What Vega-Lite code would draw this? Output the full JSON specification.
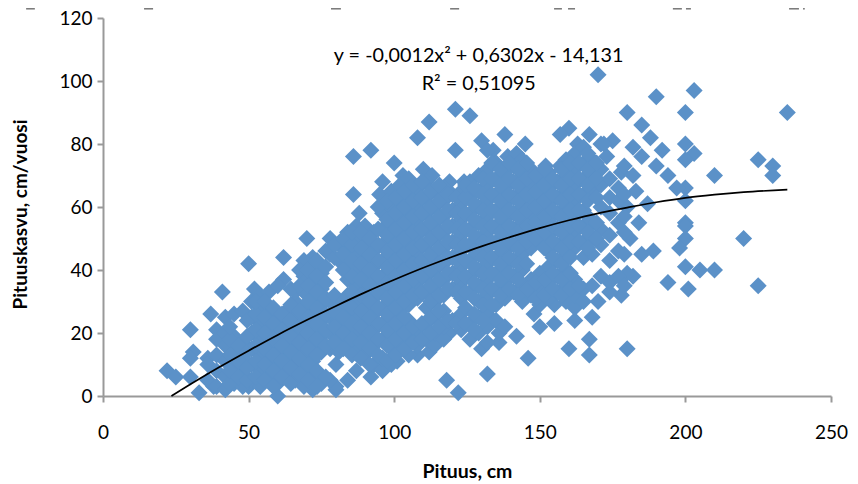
{"$schema":"https://vega.github.io/schema/vega-lite/v6.json","width":728,"height":378,"autosize":{"type":"none"},"padding":{"left":103,"top":18,"right":27,"bottom":88},"background":"white","config":{"view":{"stroke":null},"font":"Lato"},
"datasets":{"pts":[
{"x":22,"y":8},{"x":25,"y":6},{"x":30,"y":6},{"x":33,"y":1},{"x":30,"y":21},{"x":31,"y":14},{"x":30,"y":12},{"x":36,"y":12},{"x":36,"y":10},{"x":41,"y":33},{"x":50,"y":42},{"x":62,"y":44},{"x":70,"y":50},{"x":88,"y":58},{"x":52,"y":34},{"x":62,"y":37},{"x":37,"y":26},{"x":39,"y":21},{"x":60,"y":0},{"x":80,"y":2},{"x":80,"y":10},{"x":72,"y":2},{"x":50,"y":3},{"x":38,"y":3},{"x":78,"y":50},{"x":72,"y":44},
{"x":170,"y":102},{"x":190,"y":95},{"x":203,"y":97},{"x":180,"y":90},{"x":200,"y":90},{"x":235,"y":90},{"x":185,"y":86},{"x":188,"y":82},{"x":200,"y":80},{"x":203,"y":77},{"x":192,"y":78},{"x":200,"y":75},{"x":225,"y":75},{"x":230,"y":73},{"x":230,"y":70},{"x":210,"y":70},{"x":200,"y":66},{"x":200,"y":62},{"x":200,"y":55},{"x":200,"y":54},{"x":200,"y":50},{"x":198,"y":47},{"x":220,"y":50},{"x":189,"y":46},{"x":185,"y":45},{"x":200,"y":41},{"x":205,"y":40},{"x":210,"y":40},{"x":194,"y":36},{"x":201,"y":34},{"x":225,"y":35},{"x":182,"y":38},{"x":180,"y":39},{"x":178,"y":32},{"x":170,"y":30},{"x":168,"y":25},{"x":167,"y":18},{"x":167,"y":13},{"x":180,"y":15},
{"x":167,"y":83},{"x":171,"y":80},{"x":175,"y":81},{"x":173,"y":76},{"x":182,"y":79},{"x":185,"y":76},{"x":190,"y":73},{"x":194,"y":70},{"x":197,"y":66},{"x":187,"y":61},{"x":178,"y":71},{"x":182,"y":70},{"x":183,"y":65},{"x":180,"y":60},{"x":184,"y":55},{"x":181,"y":50},{"x":177,"y":46},{"x":174,"y":43},
{"x":133,"y":25},{"x":142,"y":19},{"x":146,"y":12},{"x":132,"y":7},{"x":118,"y":5},{"x":122,"y":1},{"x":160,"y":15},{"x":162,"y":24},{"x":155,"y":23},{"x":150,"y":22},{"x":148,"y":26},{"x":155,"y":29},{"x":130,"y":15},{"x":136,"y":17},{"x":136,"y":20},{"x":119,"y":20},{"x":112,"y":14},{"x":108,"y":13},{"x":101,"y":11},{"x":92,"y":6},{"x":84,"y":5},{"x":80,"y":3},
{"x":121,"y":91},{"x":126,"y":89},{"x":112,"y":87},{"x":108,"y":82},{"x":138,"y":83},{"x":130,"y":81},{"x":121,"y":78},{"x":92,"y":78},{"x":86,"y":76},{"x":100,"y":74},{"x":134,"y":78},{"x":145,"y":80},{"x":160,"y":85},{"x":157,"y":83},{"x":163,"y":80},{"x":172,"y":80},{"x":86,"y":64},{"x":95,"y":64},{"x":96,"y":68},{"x":103,"y":70},{"x":110,"y":72},{"x":113,"y":70},{"x":119,"y":68},{"x":124,"y":68},{"x":152,"y":73},{"x":157,"y":73},{"x":139,"y":76},{"x":132,"y":78},{"x":142,"y":77},
{"x":36,"y":5},{"x":39,"y":3},{"x":39,"y":8},{"x":39,"y":13},{"x":39,"y":18},{"x":42,"y":2},{"x":42,"y":6},{"x":42,"y":11},{"x":42,"y":16},{"x":42,"y":20},{"x":42,"y":25},{"x":45,"y":4},{"x":45,"y":9},{"x":45,"y":14},{"x":45,"y":19},{"x":45,"y":26},{"x":48,"y":3},{"x":48,"y":7},{"x":48,"y":12},{"x":48,"y":17},{"x":48,"y":27},{"x":51,"y":5},{"x":51,"y":10},{"x":51,"y":15},{"x":51,"y":20},{"x":51,"y":25},{"x":51,"y":30},{"x":54,"y":3},{"x":54,"y":8},{"x":54,"y":13},{"x":54,"y":18},{"x":54,"y":23},{"x":54,"y":28},{"x":54,"y":32},{"x":57,"y":6},{"x":57,"y":11},{"x":57,"y":16},{"x":57,"y":21},{"x":57,"y":26},{"x":57,"y":33},{"x":60,"y":4},{"x":60,"y":9},{"x":60,"y":14},{"x":60,"y":19},{"x":60,"y":24},{"x":60,"y":35},{"x":63,"y":7},{"x":63,"y":12},{"x":63,"y":17},{"x":63,"y":22},{"x":63,"y":27},{"x":66,"y":5},{"x":66,"y":10},{"x":66,"y":15},{"x":66,"y":20},{"x":66,"y":25},{"x":66,"y":30},{"x":66,"y":33},{"x":69,"y":3},{"x":69,"y":8},{"x":69,"y":13},{"x":69,"y":18},{"x":69,"y":23},{"x":69,"y":28},{"x":69,"y":33},{"x":69,"y":38},{"x":69,"y":43},{"x":72,"y":6},{"x":72,"y":11},{"x":72,"y":16},{"x":72,"y":21},{"x":72,"y":26},{"x":72,"y":31},{"x":72,"y":36},{"x":72,"y":41},{"x":75,"y":4},{"x":75,"y":14},{"x":75,"y":19},{"x":75,"y":24},{"x":75,"y":29},{"x":75,"y":34},{"x":75,"y":39},{"x":78,"y":5},{"x":78,"y":15},{"x":78,"y":20},{"x":78,"y":25},{"x":78,"y":30},{"x":78,"y":45},{"x":81,"y":14},{"x":81,"y":19},{"x":81,"y":24},{"x":81,"y":29},{"x":81,"y":43},{"x":81,"y":48},{"x":84,"y":17},{"x":84,"y":22},{"x":84,"y":27},{"x":84,"y":32},{"x":84,"y":37},{"x":84,"y":42},{"x":84,"y":47},{"x":84,"y":52},{"x":87,"y":8},{"x":87,"y":15},{"x":87,"y":20},{"x":87,"y":25},{"x":87,"y":30},{"x":87,"y":35},{"x":87,"y":40},{"x":87,"y":45},{"x":87,"y":50},{"x":87,"y":54},{"x":90,"y":13},{"x":90,"y":18},{"x":90,"y":23},{"x":90,"y":28},{"x":90,"y":33},{"x":90,"y":38},{"x":90,"y":43},{"x":90,"y":48},{"x":90,"y":54},{"x":93,"y":10},{"x":93,"y":16},{"x":93,"y":21},{"x":93,"y":26},{"x":93,"y":31},{"x":93,"y":36},{"x":93,"y":41},{"x":93,"y":46},{"x":93,"y":52},{"x":96,"y":8},{"x":96,"y":12},{"x":96,"y":18},{"x":96,"y":23},{"x":96,"y":28},{"x":96,"y":33},{"x":96,"y":38},{"x":96,"y":43},{"x":96,"y":48},{"x":96,"y":53},{"x":96,"y":58},{"x":99,"y":10},{"x":99,"y":15},{"x":99,"y":20},{"x":99,"y":25},{"x":99,"y":30},{"x":99,"y":35},{"x":99,"y":40},{"x":99,"y":45},{"x":99,"y":50},{"x":99,"y":55},{"x":99,"y":60},{"x":99,"y":65},{"x":102,"y":17},{"x":102,"y":22},{"x":102,"y":27},{"x":102,"y":32},{"x":102,"y":37},{"x":102,"y":42},{"x":102,"y":47},{"x":102,"y":52},{"x":102,"y":57},{"x":102,"y":62},{"x":102,"y":67},{"x":105,"y":13},{"x":105,"y":19},{"x":105,"y":24},{"x":105,"y":29},{"x":105,"y":34},{"x":105,"y":39},{"x":105,"y":44},{"x":105,"y":49},{"x":105,"y":54},{"x":105,"y":59},{"x":105,"y":64},{"x":105,"y":69},{"x":108,"y":16},{"x":108,"y":21},{"x":108,"y":31},{"x":108,"y":36},{"x":108,"y":41},{"x":108,"y":46},{"x":108,"y":51},{"x":108,"y":56},{"x":108,"y":61},{"x":108,"y":66},{"x":111,"y":18},{"x":111,"y":23},{"x":111,"y":28},{"x":111,"y":33},{"x":111,"y":38},{"x":111,"y":43},{"x":111,"y":48},{"x":111,"y":53},{"x":111,"y":58},{"x":111,"y":63},{"x":111,"y":68},{"x":114,"y":16},{"x":114,"y":20},{"x":114,"y":25},{"x":114,"y":30},{"x":114,"y":35},{"x":114,"y":40},{"x":114,"y":45},{"x":114,"y":50},{"x":114,"y":55},{"x":114,"y":60},{"x":114,"y":65},{"x":117,"y":18},{"x":117,"y":22},{"x":117,"y":27},{"x":117,"y":32},{"x":117,"y":37},{"x":117,"y":42},{"x":117,"y":47},{"x":117,"y":52},{"x":117,"y":57},{"x":117,"y":62},{"x":117,"y":66},{"x":120,"y":24},{"x":120,"y":34},{"x":120,"y":39},{"x":120,"y":44},{"x":120,"y":49},{"x":120,"y":54},{"x":120,"y":59},{"x":120,"y":64},{"x":123,"y":21},{"x":123,"y":26},{"x":123,"y":31},{"x":123,"y":36},{"x":123,"y":41},{"x":123,"y":46},{"x":123,"y":51},{"x":123,"y":56},{"x":123,"y":61},{"x":123,"y":65},{"x":126,"y":18},{"x":126,"y":23},{"x":126,"y":33},{"x":126,"y":38},{"x":126,"y":43},{"x":126,"y":48},{"x":126,"y":53},{"x":126,"y":58},{"x":126,"y":63},{"x":126,"y":68},{"x":129,"y":20},{"x":129,"y":25},{"x":129,"y":30},{"x":129,"y":35},{"x":129,"y":40},{"x":129,"y":45},{"x":129,"y":50},{"x":129,"y":55},{"x":129,"y":60},{"x":129,"y":65},{"x":129,"y":70},{"x":132,"y":17},{"x":132,"y":22},{"x":132,"y":27},{"x":132,"y":32},{"x":132,"y":37},{"x":132,"y":42},{"x":132,"y":47},{"x":132,"y":52},{"x":132,"y":57},{"x":132,"y":62},{"x":132,"y":67},{"x":132,"y":72},{"x":135,"y":24},{"x":135,"y":29},{"x":135,"y":34},{"x":135,"y":39},{"x":135,"y":44},{"x":135,"y":49},{"x":135,"y":54},{"x":135,"y":59},{"x":135,"y":64},{"x":135,"y":69},{"x":135,"y":74},{"x":138,"y":22},{"x":138,"y":31},{"x":138,"y":36},{"x":138,"y":41},{"x":138,"y":46},{"x":138,"y":51},{"x":138,"y":56},{"x":138,"y":61},{"x":138,"y":66},{"x":138,"y":71},{"x":141,"y":33},{"x":141,"y":38},{"x":141,"y":43},{"x":141,"y":48},{"x":141,"y":53},{"x":141,"y":58},{"x":141,"y":63},{"x":141,"y":68},{"x":141,"y":73},{"x":144,"y":30},{"x":144,"y":35},{"x":144,"y":40},{"x":144,"y":45},{"x":144,"y":50},{"x":144,"y":55},{"x":144,"y":60},{"x":144,"y":65},{"x":144,"y":70},{"x":144,"y":75},{"x":147,"y":32},{"x":147,"y":37},{"x":147,"y":47},{"x":147,"y":52},{"x":147,"y":57},{"x":147,"y":62},{"x":147,"y":67},{"x":147,"y":72},{"x":150,"y":29},{"x":150,"y":34},{"x":150,"y":39},{"x":150,"y":49},{"x":150,"y":54},{"x":150,"y":59},{"x":150,"y":64},{"x":150,"y":69},{"x":153,"y":31},{"x":153,"y":36},{"x":153,"y":41},{"x":153,"y":46},{"x":153,"y":51},{"x":153,"y":56},{"x":153,"y":61},{"x":153,"y":66},{"x":153,"y":71},{"x":156,"y":33},{"x":156,"y":38},{"x":156,"y":43},{"x":156,"y":48},{"x":156,"y":53},{"x":156,"y":58},{"x":156,"y":63},{"x":156,"y":68},{"x":159,"y":30},{"x":159,"y":35},{"x":159,"y":40},{"x":159,"y":45},{"x":159,"y":50},{"x":159,"y":55},{"x":159,"y":60},{"x":159,"y":65},{"x":159,"y":70},{"x":159,"y":75},{"x":162,"y":28},{"x":162,"y":32},{"x":162,"y":37},{"x":162,"y":47},{"x":162,"y":52},{"x":162,"y":57},{"x":162,"y":62},{"x":162,"y":67},{"x":162,"y":72},{"x":162,"y":77},{"x":165,"y":30},{"x":165,"y":34},{"x":165,"y":44},{"x":165,"y":49},{"x":165,"y":54},{"x":165,"y":59},{"x":165,"y":64},{"x":165,"y":69},{"x":165,"y":74},{"x":165,"y":79},{"x":168,"y":35},{"x":168,"y":45},{"x":168,"y":50},{"x":168,"y":55},{"x":168,"y":65},{"x":168,"y":70},{"x":168,"y":75},{"x":171,"y":38},{"x":171,"y":48},{"x":171,"y":53},{"x":171,"y":60},{"x":171,"y":67},{"x":171,"y":72},{"x":174,"y":33},{"x":174,"y":36},{"x":174,"y":51},{"x":174,"y":58},{"x":174,"y":63},{"x":174,"y":69},{"x":177,"y":38},{"x":177,"y":55},{"x":177,"y":62},{"x":177,"y":66},{"x":179,"y":35},{"x":179,"y":45},{"x":179,"y":52},{"x":179,"y":57},{"x":179,"y":64},{"x":179,"y":73},
{"x":43.5,"y":4},{"x":43.5,"y":8},{"x":43.5,"y":13},{"x":43.5,"y":18},{"x":43.5,"y":22},{"x":46.5,"y":6},{"x":46.5,"y":11},{"x":46.5,"y":16},{"x":49.5,"y":5},{"x":49.5,"y":9},{"x":49.5,"y":14},{"x":49.5,"y":19},{"x":49.5,"y":24},{"x":52.5,"y":6},{"x":52.5,"y":11},{"x":52.5,"y":16},{"x":52.5,"y":21},{"x":52.5,"y":26},{"x":52.5,"y":30},{"x":55.5,"y":5},{"x":55.5,"y":10},{"x":55.5,"y":15},{"x":55.5,"y":20},{"x":55.5,"y":25},{"x":55.5,"y":30},{"x":58.5,"y":3},{"x":58.5,"y":8},{"x":58.5,"y":13},{"x":58.5,"y":18},{"x":58.5,"y":23},{"x":58.5,"y":28},{"x":61.5,"y":6},{"x":61.5,"y":11},{"x":61.5,"y":16},{"x":61.5,"y":21},{"x":61.5,"y":26},{"x":64.5,"y":4},{"x":64.5,"y":9},{"x":64.5,"y":14},{"x":64.5,"y":19},{"x":64.5,"y":24},{"x":64.5,"y":29},{"x":64.5,"y":34},{"x":67.5,"y":7},{"x":67.5,"y":12},{"x":67.5,"y":17},{"x":67.5,"y":22},{"x":67.5,"y":27},{"x":67.5,"y":35},{"x":67.5,"y":40},{"x":70.5,"y":5},{"x":70.5,"y":10},{"x":70.5,"y":15},{"x":70.5,"y":20},{"x":70.5,"y":25},{"x":70.5,"y":30},{"x":70.5,"y":35},{"x":70.5,"y":40},{"x":73.5,"y":3},{"x":73.5,"y":8},{"x":73.5,"y":13},{"x":73.5,"y":18},{"x":73.5,"y":23},{"x":73.5,"y":28},{"x":73.5,"y":33},{"x":73.5,"y":38},{"x":73.5,"y":43},{"x":76.5,"y":6},{"x":76.5,"y":16},{"x":76.5,"y":21},{"x":76.5,"y":26},{"x":76.5,"y":31},{"x":76.5,"y":36},{"x":76.5,"y":41},{"x":76.5,"y":46},{"x":79.5,"y":17},{"x":79.5,"y":22},{"x":79.5,"y":27},{"x":79.5,"y":32},{"x":79.5,"y":44},{"x":79.5,"y":48},{"x":82.5,"y":15},{"x":82.5,"y":20},{"x":82.5,"y":25},{"x":82.5,"y":30},{"x":82.5,"y":40},{"x":82.5,"y":45},{"x":82.5,"y":50},{"x":85.5,"y":13},{"x":85.5,"y":18},{"x":85.5,"y":23},{"x":85.5,"y":28},{"x":85.5,"y":33},{"x":85.5,"y":38},{"x":85.5,"y":43},{"x":85.5,"y":48},{"x":85.5,"y":52},{"x":88.5,"y":12},{"x":88.5,"y":17},{"x":88.5,"y":22},{"x":88.5,"y":27},{"x":88.5,"y":32},{"x":88.5,"y":37},{"x":88.5,"y":42},{"x":88.5,"y":47},{"x":88.5,"y":52},{"x":91.5,"y":10},{"x":91.5,"y":15},{"x":91.5,"y":20},{"x":91.5,"y":25},{"x":91.5,"y":30},{"x":91.5,"y":35},{"x":91.5,"y":40},{"x":91.5,"y":45},{"x":91.5,"y":50},{"x":94.5,"y":13},{"x":94.5,"y":18},{"x":94.5,"y":23},{"x":94.5,"y":28},{"x":94.5,"y":33},{"x":94.5,"y":38},{"x":94.5,"y":43},{"x":94.5,"y":48},{"x":94.5,"y":53},{"x":94.5,"y":60},{"x":97.5,"y":11},{"x":97.5,"y":16},{"x":97.5,"y":21},{"x":97.5,"y":26},{"x":97.5,"y":31},{"x":97.5,"y":36},{"x":97.5,"y":41},{"x":97.5,"y":46},{"x":97.5,"y":51},{"x":97.5,"y":56},{"x":97.5,"y":62},{"x":100.5,"y":13},{"x":100.5,"y":18},{"x":100.5,"y":23},{"x":100.5,"y":28},{"x":100.5,"y":33},{"x":100.5,"y":38},{"x":100.5,"y":43},{"x":100.5,"y":48},{"x":100.5,"y":53},{"x":100.5,"y":58},{"x":100.5,"y":63},{"x":103.5,"y":15},{"x":103.5,"y":20},{"x":103.5,"y":25},{"x":103.5,"y":30},{"x":103.5,"y":35},{"x":103.5,"y":40},{"x":103.5,"y":45},{"x":103.5,"y":50},{"x":103.5,"y":55},{"x":103.5,"y":60},{"x":103.5,"y":65},{"x":106.5,"y":17},{"x":106.5,"y":22},{"x":106.5,"y":32},{"x":106.5,"y":37},{"x":106.5,"y":42},{"x":106.5,"y":47},{"x":106.5,"y":52},{"x":106.5,"y":57},{"x":106.5,"y":62},{"x":106.5,"y":67},{"x":109.5,"y":18},{"x":109.5,"y":23},{"x":109.5,"y":33},{"x":109.5,"y":38},{"x":109.5,"y":43},{"x":109.5,"y":48},{"x":109.5,"y":53},{"x":109.5,"y":58},{"x":109.5,"y":63},{"x":109.5,"y":68},{"x":112.5,"y":20},{"x":112.5,"y":25},{"x":112.5,"y":30},{"x":112.5,"y":35},{"x":112.5,"y":40},{"x":112.5,"y":45},{"x":112.5,"y":50},{"x":112.5,"y":55},{"x":112.5,"y":60},{"x":112.5,"y":65},{"x":115.5,"y":22},{"x":115.5,"y":27},{"x":115.5,"y":32},{"x":115.5,"y":37},{"x":115.5,"y":42},{"x":115.5,"y":47},{"x":115.5,"y":52},{"x":115.5,"y":57},{"x":115.5,"y":62},{"x":115.5,"y":67},{"x":118.5,"y":24},{"x":118.5,"y":34},{"x":118.5,"y":39},{"x":118.5,"y":44},{"x":118.5,"y":49},{"x":118.5,"y":54},{"x":118.5,"y":59},{"x":118.5,"y":64},{"x":121.5,"y":23},{"x":121.5,"y":33},{"x":121.5,"y":38},{"x":121.5,"y":43},{"x":121.5,"y":48},{"x":121.5,"y":53},{"x":121.5,"y":58},{"x":121.5,"y":63},{"x":124.5,"y":23},{"x":124.5,"y":28},{"x":124.5,"y":33},{"x":124.5,"y":38},{"x":124.5,"y":43},{"x":124.5,"y":48},{"x":124.5,"y":53},{"x":124.5,"y":58},{"x":124.5,"y":63},{"x":124.5,"y":67},{"x":127.5,"y":21},{"x":127.5,"y":26},{"x":127.5,"y":31},{"x":127.5,"y":36},{"x":127.5,"y":41},{"x":127.5,"y":46},{"x":127.5,"y":51},{"x":127.5,"y":56},{"x":127.5,"y":61},{"x":127.5,"y":66},{"x":130.5,"y":24},{"x":130.5,"y":29},{"x":130.5,"y":34},{"x":130.5,"y":39},{"x":130.5,"y":44},{"x":130.5,"y":49},{"x":130.5,"y":54},{"x":130.5,"y":59},{"x":130.5,"y":64},{"x":130.5,"y":69},{"x":133.5,"y":29},{"x":133.5,"y":34},{"x":133.5,"y":39},{"x":133.5,"y":44},{"x":133.5,"y":49},{"x":133.5,"y":54},{"x":133.5,"y":59},{"x":133.5,"y":64},{"x":133.5,"y":69},{"x":133.5,"y":74},{"x":136.5,"y":32},{"x":136.5,"y":37},{"x":136.5,"y":42},{"x":136.5,"y":47},{"x":136.5,"y":52},{"x":136.5,"y":57},{"x":136.5,"y":62},{"x":136.5,"y":67},{"x":136.5,"y":72},{"x":139.5,"y":34},{"x":139.5,"y":39},{"x":139.5,"y":44},{"x":139.5,"y":49},{"x":139.5,"y":54},{"x":139.5,"y":59},{"x":139.5,"y":64},{"x":139.5,"y":69},{"x":139.5,"y":74},{"x":142.5,"y":32},{"x":142.5,"y":37},{"x":142.5,"y":42},{"x":142.5,"y":47},{"x":142.5,"y":52},{"x":142.5,"y":57},{"x":142.5,"y":62},{"x":142.5,"y":67},{"x":142.5,"y":72},{"x":145.5,"y":34},{"x":145.5,"y":42},{"x":145.5,"y":49},{"x":145.5,"y":54},{"x":145.5,"y":59},{"x":145.5,"y":64},{"x":145.5,"y":69},{"x":145.5,"y":74},{"x":148.5,"y":31},{"x":148.5,"y":36},{"x":148.5,"y":50},{"x":148.5,"y":55},{"x":148.5,"y":60},{"x":148.5,"y":65},{"x":148.5,"y":70},{"x":151.5,"y":32},{"x":151.5,"y":37},{"x":151.5,"y":47},{"x":151.5,"y":52},{"x":151.5,"y":57},{"x":151.5,"y":62},{"x":151.5,"y":67},{"x":151.5,"y":72},{"x":154.5,"y":34},{"x":154.5,"y":39},{"x":154.5,"y":44},{"x":154.5,"y":49},{"x":154.5,"y":54},{"x":154.5,"y":59},{"x":154.5,"y":64},{"x":154.5,"y":69},{"x":157.5,"y":32},{"x":157.5,"y":37},{"x":157.5,"y":42},{"x":157.5,"y":47},{"x":157.5,"y":52},{"x":157.5,"y":57},{"x":157.5,"y":62},{"x":157.5,"y":67},{"x":157.5,"y":72},{"x":160.5,"y":34},{"x":160.5,"y":39},{"x":160.5,"y":44},{"x":160.5,"y":49},{"x":160.5,"y":54},{"x":160.5,"y":59},{"x":160.5,"y":64},{"x":160.5,"y":69},{"x":160.5,"y":74},{"x":163.5,"y":35},{"x":163.5,"y":49},{"x":163.5,"y":54},{"x":163.5,"y":59},{"x":163.5,"y":64},{"x":163.5,"y":69},{"x":163.5,"y":74},{"x":166.5,"y":47},{"x":166.5,"y":52},{"x":166.5,"y":57},{"x":166.5,"y":62},{"x":166.5,"y":67},{"x":166.5,"y":72},{"x":166.5,"y":77},{"x":169.5,"y":50},{"x":169.5,"y":55},{"x":169.5,"y":63},{"x":169.5,"y":69},{"x":169.5,"y":74}
],
"trend":[{"x":23.5,"y":0},{"x":30,"y":3.7},{"x":40,"y":9.2},{"x":50,"y":14.4},{"x":60,"y":19.4},{"x":70,"y":24.1},{"x":80,"y":28.6},{"x":90,"y":32.9},{"x":100,"y":36.9},{"x":110,"y":40.7},{"x":120,"y":44.2},{"x":130,"y":47.5},{"x":140,"y":50.5},{"x":150,"y":53.3},{"x":160,"y":55.8},{"x":170,"y":58},{"x":180,"y":59.8},{"x":190,"y":61.5},{"x":200,"y":62.9},{"x":210,"y":63.9},{"x":220,"y":64.7},{"x":235,"y":65.5}],
"clip":[{"x":-26.4,"x2":-23.4,"y":122.9},{"x":14.1,"x2":17.2,"y":122.9},{"x":78.3,"x2":81.7,"y":122.9},{"x":119.2,"x2":122.3,"y":122.9},{"x":154.9,"x2":157.6,"y":122.9},{"x":159.7,"x2":162.1,"y":122.9},{"x":195.7,"x2":198.8,"y":122.9},{"x":200.2,"x2":201.9,"y":122.9},{"x":235.6,"x2":239,"y":122.9},{"x":240.4,"x2":241,"y":122.9}]},
"layer":[
{"data":{"name":"pts"},"mark":{"type":"point","shape":"diamond","filled":true,"size":289,"color":"#5B91C8","opacity":1},
"encoding":{"x":{"field":"x","type":"quantitative","scale":{"domain":[0,250],"nice":false},
"axis":{"values":[0,50,100,150,200,250],"grid":false,"title":"Pituus, cm","titleFontSize":19.5,"titleFontWeight":"bold","titleColor":"#000","titlePadding":20,"labelFontSize":19,"labelColor":"#000","labelPadding":21,"labelFlush":false,"domainColor":"#999","domainWidth":2,"tickColor":"#999","tickWidth":2,"tickSize":6}},
"y":{"field":"y","type":"quantitative","scale":{"domain":[0,120],"nice":false},
"axis":{"values":[0,20,40,60,80,100,120],"grid":false,"title":"Pituuskasvu, cm/vuosi","titleFontSize":19,"titleFontWeight":"bold","titleColor":"#000","titlePadding":28,"titleY":196,"labelFontSize":19,"labelColor":"#000","labelPadding":5,"domainColor":"#999","domainWidth":2,"tickColor":"#999","tickWidth":2,"tickSize":6}}}},
{"data":{"name":"trend"},"mark":{"type":"line","color":"#000","strokeWidth":1.7,"interpolate":"monotone"},"encoding":{"x":{"field":"x","type":"quantitative"},"y":{"field":"y","type":"quantitative"}}},
{"data":{"name":"clip"},"mark":{"type":"rule","color":"#333","strokeWidth":1,"clip":false},"encoding":{"x":{"field":"x","type":"quantitative"},"x2":{"field":"x2"},"y":{"field":"y","type":"quantitative"}}},
{"data":{"values":[{"t":"y = -0,0012x² + 0,6302x - 14,131"}]},"mark":{"type":"text","fontSize":19.8,"color":"#000","align":"center","baseline":"middle"},"encoding":{"text":{"field":"t"},"x":{"datum":129},"y":{"datum":107.8}}},
{"data":{"values":[{"t":"R² = 0,51095"}]},"mark":{"type":"text","fontSize":19.8,"color":"#000","align":"center","baseline":"middle"},"encoding":{"text":{"field":"t"},"x":{"datum":129},"y":{"datum":98.9}}}
]}
